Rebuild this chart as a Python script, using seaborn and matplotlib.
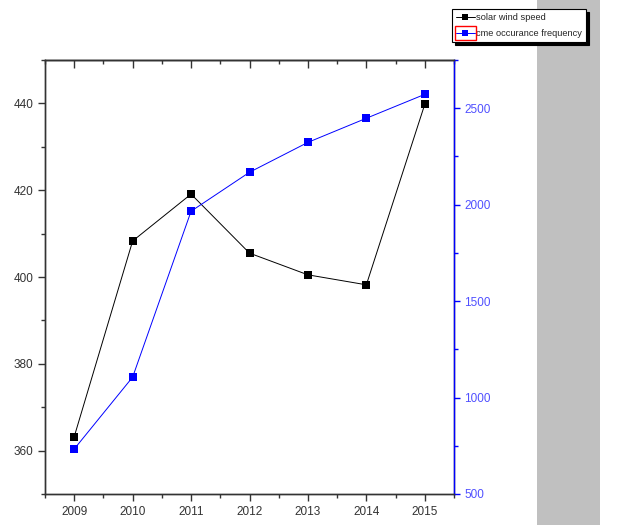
import pandas as pd
import matplotlib
matplotlib.use("Agg")
import matplotlib.pyplot as plt
import matplotlib.patches as mpatches
from matplotlib.ticker import MultipleLocator
import seaborn as sns

# data
years = [2009, 2010, 2011, 2012, 2013, 2014, 2015]
solar_wind_speed = [363.2, 408.3, 419.1, 405.5, 400.5, 398.2, 439.8]
cme_frequency = [733, 1106, 1966, 2168, 2323, 2448, 2572]

df = pd.DataFrame({"year": years, "speed": solar_wind_speed, "cme": cme_frequency})

sns.set_style("ticks")
plt.rcParams['font.family'] = ['Liberation Sans', 'DejaVu Sans']

fig = plt.figure(figsize=(6.23, 5.25), dpi=100)
ax = fig.add_axes([45 / 623, 1 - 494 / 525, 409 / 623, 434 / 525])

# gray strip at the right edge
fig.patches.append(mpatches.Rectangle((537 / 623, 0), 63 / 623, 1, transform=fig.transFigure,
                                      facecolor="#c0c0c0", edgecolor="none", zorder=0))

sns.lineplot(data=df, x="year", y="speed", ax=ax, color="black", lw=0.7,
             marker="s", markersize=6, markeredgewidth=0, label="solar wind speed", legend=False)
ax2 = ax.twinx()
sns.lineplot(data=df, x="year", y="cme", ax=ax2, color="blue", lw=0.7,
             marker="s", markersize=6, markeredgewidth=0, label="cme occurance frequency", legend=False)

ax.set_xlim(2008.5, 2015.5)
ax.set_ylim(350, 450)
ax2.set_ylim(500, 2750)
ax.set_xticks(years)
ax.set_xticklabels([str(y) for y in years])
ax.xaxis.set_minor_locator(MultipleLocator(0.5))
ax.yaxis.set_major_locator(MultipleLocator(20))
ax.yaxis.set_minor_locator(MultipleLocator(10))
ax2.yaxis.set_major_locator(MultipleLocator(500))
ax2.yaxis.set_minor_locator(MultipleLocator(250))
ax.set_xlabel("")
ax.set_ylabel("")
ax2.set_ylabel("")

for a in (ax, ax2):
    for s in a.spines.values():
        s.set_linewidth(1.0)
        s.set_color("#333333")
ax2.spines["right"].set_color("blue")

ax.tick_params(axis="both", which="major", labelsize=8.5, length=5, width=1, colors="#333333")
ax.tick_params(axis="both", which="minor", length=3, width=1, colors="#333333")
ax2.tick_params(axis="y", which="major", labelsize=8.5, length=4, width=1, colors="blue", labelcolor="#5050ff")
ax2.tick_params(axis="y", which="minor", length=3, width=1, colors="blue")

# mirrored ticks on top, pointing inward
top = ax.secondary_xaxis("top")
top.set_xticks(years)
top.xaxis.set_minor_locator(MultipleLocator(0.5))
top.tick_params(axis="x", which="major", direction="in", length=6, width=1, colors="#333333", labeltop=False)
top.tick_params(axis="x", which="minor", direction="in", length=3, width=1, colors="#333333")
top.spines["top"].set_linewidth(1.0)
top.spines["top"].set_color("#333333")
ax.grid(False)
ax2.grid(False)

# legend with shadow, top right
h1, l1 = ax.get_legend_handles_labels()
h2, l2 = ax2.get_legend_handles_labels()
leg = fig.legend(h1 + h2, l1 + l2, loc="upper left", bbox_to_anchor=(452 / 623, 1 - 9 / 525),
                 fontsize=6.7, frameon=True, fancybox=False, shadow={"color": "black", "alpha": 1},
                 borderpad=0.45, labelspacing=0.75, handlelength=2.0, handletextpad=0.1,
                 markerscale=0.8, edgecolor="black", borderaxespad=0)
leg.get_frame().set_linewidth(0.8)

# red box round the second legend handle
fig.canvas.draw()
bb = leg.get_lines()[1].get_window_extent(fig.canvas.get_renderer())
yc = (bb.y0 + bb.y1) / 2
fig.patches.append(mpatches.Rectangle((bb.x0 + 2, yc - 7), bb.width - 4, 14,
                                      transform=None, facecolor="none", edgecolor="red", lw=1, zorder=10))

fig.savefig("out.png", dpi=100)
